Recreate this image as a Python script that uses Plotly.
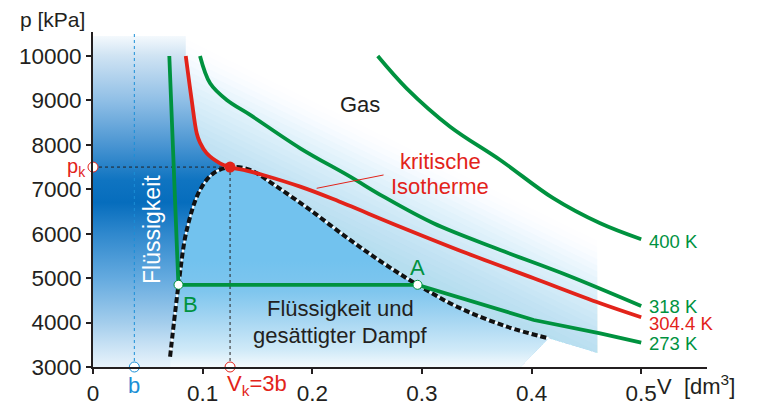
import plotly.graph_objects as go

# ---------------- data ----------------
V_273 = [0.0696, 0.0718, 0.0733, 0.0779, 0.296, 0.341, 0.402, 0.4626, 0.5]
P_273 = [10000, 8711, 7585, 4850, 4850, 4508, 4058, 3758, 3547]

V_304 = [0.0846, 0.090, 0.0946, 0.0976, 0.1037, 0.1159, 0.125, 0.140, 0.155,
         0.189, 0.219, 0.280, 0.341, 0.402, 0.4626, 0.5]
P_304 = [10000, 9010, 8260, 8050, 7810, 7585, 7500, 7420, 7322,
         7059, 6780, 6158, 5559, 4997, 4434, 4119]

V_318 = [0.0976, 0.1068, 0.122, 0.143, 0.189, 0.2345, 0.265, 0.3105, 0.3714, 0.432, 0.5]
P_318 = [10000, 9386, 9010, 8680, 7923, 7284, 6834, 6235, 5634, 5071, 4373]

V_400 = [0.2597, 0.286, 0.3257, 0.3714, 0.4197, 0.4626, 0.5]
P_400 = [10000, 9273, 8410, 7660, 6800, 6234, 5875]

V_SAT = [0.0703, 0.0748, 0.078, 0.0855, 0.0976, 0.1098, 0.125, 0.1432, 0.1676,
         0.198, 0.2345, 0.265, 0.296, 0.332, 0.3775, 0.4155]
P_SAT = [3232, 4208, 4850, 6084, 6984, 7360, 7500, 7435, 7059,
         6534, 5859, 5334, 4850, 4357, 3907, 3646]
N_LEFT_BRANCH = 7  # first 7 points of V_SAT/P_SAT: bottom-left up to critical point

V_C, P_C = 0.125, 7500        # critical point
V_B, V_A, P_AB = 0.078, 0.296, 4850
V_b = 0.0377

ISO_LABELS = ["400 K", "318 K", "304.4 K", "273 K"]
ISO_LABEL_P = [5836, 4373, 3984, 3533]

X_TICKS = [0, 0.1, 0.2, 0.3, 0.4, 0.5]
Y_TICKS = [3000, 4000, 5000, 6000, 7000, 8000, 9000, 10000]

# ---------------- style ----------------
GREEN = "#00923f"
RED = "#e2231a"
BLUE = "#1b8fd6"
BLACK = "#231f20"
FONT = "Liberation Sans, Arial, sans-serif"

X_RANGE = [0, 0.56]
Y_RANGE = [3000, 10540]
X_SHADE = 0.46
P_TOP = 10450

fig = go.Figure()


def clip(poly, x0, p0, slope):
    """keep part of polygon with p <= p0 + slope*(x-x0)"""
    def f(pt):
        return p0 + slope * (pt[0] - x0) - pt[1]
    out = []
    n = len(poly)
    for i in range(n):
        a, b = poly[i], poly[(i + 1) % n]
        fa, fb = f(a), f(b)
        if fa >= 0:
            out.append(a)
        if (fa >= 0) != (fb >= 0):
            t = fa / (fa - fb)
            out.append((a[0] + t * (b[0] - a[0]), a[1] + t * (b[1] - a[1])))
    return out


def poly_trace(pts, **kw):
    xs = [p[0] for p in pts] + [pts[0][0]]
    ys = [p[1] for p in pts] + [pts[0][1]]
    return go.Scatter(x=xs, y=ys, mode="lines", fill="toself", line=dict(width=0),
                      hoverinfo="skip", showlegend=False, **kw)


# outer diagonal gradient (stacked translucent layers, soft start)
base = [(0, 3000), (0.39, 3000), (V_SAT[-1], P_SAT[-1]), (X_SHADE, 3315),
        (X_SHADE, P_TOP), (0, P_TOP)]
LAYER_ALPHA = [0.008, 0.014, 0.02, 0.027] + [0.034] * 16
for k, a in enumerate(LAYER_ALPHA):
    pts = clip(base, 0.078 - k * 0.0115, 10460, -12086)
    if len(pts) >= 3:
        fig.add_trace(poly_trace(pts, fillcolor=f"rgba(100,190,240,{a})"))

# liquid region (dark band), bounded by saturation curve and critical isotherm
band = [(0, 3000), (V_SAT[0], 3000)]
band += list(zip(V_SAT[:N_LEFT_BRANCH], P_SAT[:N_LEFT_BRANCH]))
band += list(zip(V_304[:6][::-1], P_304[:6][::-1]))
band += [(V_304[0], P_TOP), (0, P_TOP)]
band_stops = [(3000, "#e8f3fb"), (3500, "#c7e1f4"), (4000, "#a3cdec"), (5000, "#64aadf"),
              (6000, "#2f88cd"), (6700, "#066dbd"), (7200, "#0f74c1"), (8000, "#4a95d2"),
              (9000, "#90bfe6"), (10000, "#cfe3f3"), (P_TOP, "#f4f9fd")]
fig.add_trace(poly_trace(band, fillcolor="#3a90d1", fillgradient=dict(
    type="vertical", start=3000, stop=P_TOP,
    colorscale=[[(p - 3000) / (P_TOP - 3000), c] for p, c in band_stops])))

# two-phase dome
dome = list(zip(V_SAT, P_SAT)) + [(0.39, 3000), (V_SAT[0], 3000)]
dome_stops = [(3000, "#f4fafd"), (3380, "#d0eaf8"), (4060, "#a6d6f2"), (4700, "#7fc6ee"),
              (5400, "#72c2ee"), (P_C, "#72c2ee")]
fig.add_trace(poly_trace(dome, fillcolor="#72c2ee", fillgradient=dict(
    type="vertical", start=3000, stop=P_C,
    colorscale=[[(p - 3000) / (P_C - 3000), c] for p, c in dome_stops])))

# helper dashed lines
fig.add_trace(go.Scatter(x=[0, V_C], y=[P_C, P_C], mode="lines",
                         line=dict(color=BLACK, width=1, dash="3px,3px"),
                         hoverinfo="skip", showlegend=False))
fig.add_trace(go.Scatter(x=[V_C, V_C], y=[3000, P_C], mode="lines",
                         line=dict(color=BLACK, width=1, dash="3px,3px"),
                         hoverinfo="skip", showlegend=False))
fig.add_trace(go.Scatter(x=[V_b, V_b], y=[3000, Y_RANGE[1]], mode="lines",
                         line=dict(color=BLUE, width=1, dash="3px,3px"),
                         hoverinfo="skip", showlegend=False))

# saturation curve (black dashed with thin white underlay)
fig.add_trace(go.Scatter(x=V_SAT, y=P_SAT, mode="lines",
                         line=dict(color="white", width=2, shape="spline"),
                         hoverinfo="skip", showlegend=False))
fig.add_trace(go.Scatter(x=V_SAT, y=P_SAT, mode="lines",
                         line=dict(color="#111111", width=4, dash="6px,3px", shape="spline"),
                         hoverinfo="skip", showlegend=False))

# isotherms
LW = 3.8
fig.add_trace(go.Scatter(x=V_400, y=P_400, mode="lines",
                         line=dict(color=GREEN, width=LW, shape="spline"), showlegend=False))
fig.add_trace(go.Scatter(x=V_318, y=P_318, mode="lines",
                         line=dict(color=GREEN, width=LW, shape="spline"), showlegend=False))
fig.add_trace(go.Scatter(x=V_273, y=P_273, mode="lines",
                         line=dict(color=GREEN, width=LW), showlegend=False))
fig.add_trace(go.Scatter(x=V_304, y=P_304, mode="lines",
                         line=dict(color=RED, width=LW, shape="spline"), showlegend=False))

# pointer for "kritische Isotherme"
fig.add_trace(go.Scatter(x=[0.204, 0.265], y=[7022, 7322], mode="lines",
                         line=dict(color=RED, width=1), hoverinfo="skip", showlegend=False))

# markers
fig.add_trace(go.Scatter(x=[V_C], y=[P_C], mode="markers",
                         marker=dict(color=RED, size=11), showlegend=False, cliponaxis=False))
fig.add_trace(go.Scatter(x=[V_B, V_A], y=[P_AB, P_AB], mode="markers",
                         marker=dict(color="white", size=9, line=dict(color=GREEN, width=1)),
                         showlegend=False, cliponaxis=False))
fig.add_trace(go.Scatter(x=[0, V_C], y=[P_C, 3000], mode="markers",
                         marker=dict(color="white", size=10, line=dict(color=RED, width=1)),
                         showlegend=False, cliponaxis=False))
fig.add_trace(go.Scatter(x=[V_b], y=[3000], mode="markers",
                         marker=dict(color="white", size=10, line=dict(color=BLUE, width=1)),
                         showlegend=False, cliponaxis=False))

ann = []


def text(x, y, s, color=BLACK, size=22, xanchor="center", xref="x", yref="y", **kw):
    ann.append(dict(x=x, y=y, text=s, showarrow=False, xref=xref, yref=yref,
                    xanchor=xanchor, yanchor="middle",
                    font=dict(family=FONT, size=size, color=color), **kw))


text(0.2436, 8914, "Gas")
text(0.3166, 7615, "kritische", RED)
text(0.3166, 7052, "Isotherme", RED)
text(0.2254, 4328, "Flüssigkeit und")
text(0.2254, 3720, "gesättigter Dampf")
text(0.0538, 6106, "Flüssigkeit", "white", 23, textangle=-90)
text(0.2956, 5229, "A", GREEN)
text(0.0885, 4396, "B", GREEN)
for lab, p in zip(ISO_LABELS, ISO_LABEL_P):
    text(0.505, p, lab, RED if lab.startswith("304") else GREEN, 18.5, xanchor="left")

text(-0.008, P_C, "p<sub>k</sub>", RED, 20, xanchor="right", xref="paper")
text(V_b, -0.054, "b", BLUE, 22, yref="paper")
text(0.1204, -0.054, "V<sub>k</sub>=3b", RED, 22, xanchor="left", yref="paper")
text(0.5128, -0.054, "V\u00a0\u00a0[dm<sup>3</sup>]", BLACK, 22, xanchor="left", yref="paper")
text(-0.122, 1.036, "p [kPa]", BLACK, 21, xanchor="left", xref="paper", yref="paper")

AX = dict(showgrid=False, zeroline=False, showline=True, linecolor=BLACK, linewidth=2,
          ticks="outside", ticklen=5, tickwidth=1.5, tickcolor=BLACK, automargin=False,
          tickfont=dict(size=22.5, family=FONT, color=BLACK))

# page body has an 8px default margin -> shrink figure and margins by 8px
fig.update_layout(
    width=758, height=393,
    margin=dict(l=85, r=59, t=24, b=34),
    paper_bgcolor="white", plot_bgcolor="white",
    showlegend=False,
    annotations=ann,
    font=dict(family=FONT, color=BLACK),
    xaxis=dict(range=X_RANGE, tickvals=X_TICKS, ticktext=[str(v) for v in X_TICKS], **AX),
    yaxis=dict(range=Y_RANGE, tickvals=Y_TICKS, ticktext=[str(v) for v in Y_TICKS], **AX),
)

fig.write_html("out.html")
